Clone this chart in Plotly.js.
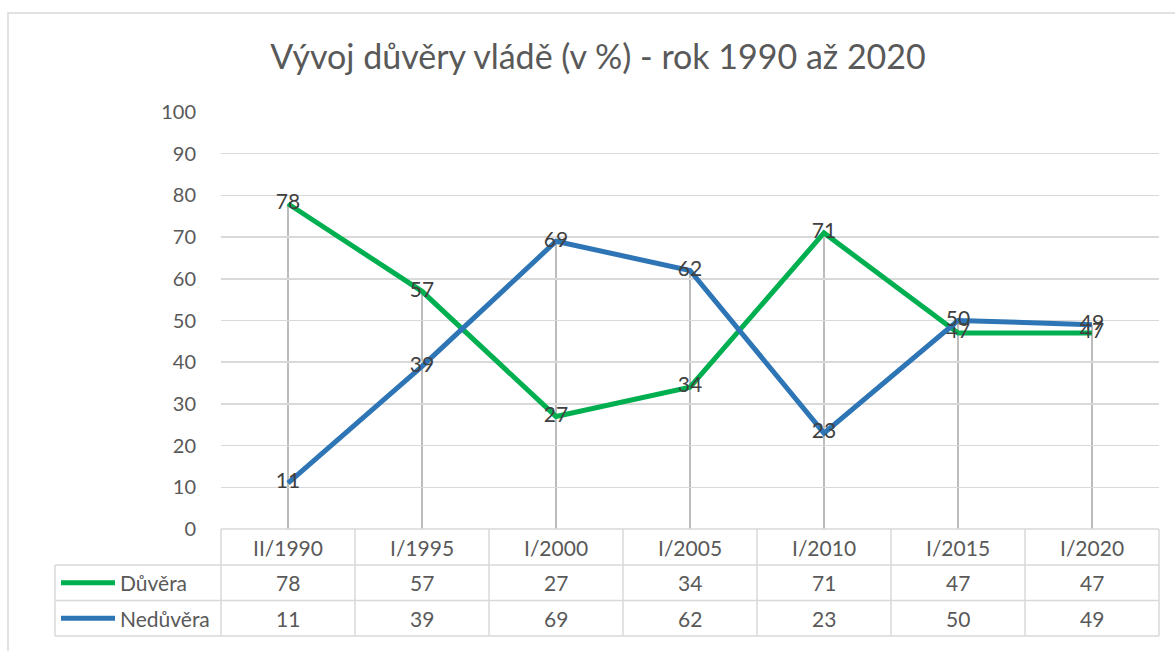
<!DOCTYPE html>
<html><head><meta charset="utf-8">
<script src="https://cdn.plot.ly/plotly-3.0.1.min.js"></script>
<style>html,body{margin:0;padding:0;background:#fff}#chart{width:1175px;height:651px}</style>
</head><body><div id="chart"></div>
<script>
const categories = ['II/1990','I/1995','I/2000','I/2005','I/2010','I/2015','I/2020'];
const duvera = [78, 57, 27, 34, 71, 47, 47];
const neduvera = [11, 39, 69, 62, 23, 50, 49];
const seriesNames = ['Důvěra', 'Nedůvěra'];
const titleText = 'Vývoj důvěry vládě (v %) - rok 1990 až 2020';

const W = 1175, H = 651;
const L = 221, R = 1159, T = 112, B = 529;
const FONT = 'Lato, "Open Sans", sans-serif';
const green = '#00b050', blue = '#2e75b6', grid = '#d9d9d9', txt = '#595959', lbl = '#404040';
const px2x = p => (p - L) / (R - L);
const py2y = p => (B - p) / (B - T);

const xs = categories.map((c, i) => i);
const shapes = [];
const annotations = [];

// drop lines from max value to 0
xs.forEach((x, i) => {
  shapes.push({type:'line', xref:'x', yref:'y', x0:x, x1:x, y0:0, y1:Math.max(duvera[i], neduvera[i]),
    line:{color:'#a6a6a6', width:1.5}, layer:'below'});
});

// outer border
shapes.push({type:'rect', xref:'paper', yref:'paper', x0:px2x(8), x1:px2x(1180), y0:py2y(13), y1:py2y(660),
  line:{color:grid, width:1.5}, fillcolor:'rgba(0,0,0,0)'});

// data table
const rowY = [529, 565, 600.5, 636];
const tl = {color:grid, width:1.5};
shapes.push({type:'line', xref:'paper', yref:'paper', x0:0, x1:1, y0:py2y(rowY[0]), y1:py2y(rowY[0]), line:tl});
for (let r = 1; r < 4; r++) {
  shapes.push({type:'line', xref:'paper', yref:'paper', x0:px2x(55), x1:1, y0:py2y(rowY[r]), y1:py2y(rowY[r]), line:tl});
}
for (let c = 0; c <= categories.length; c++) {
  const xp = c / categories.length;
  shapes.push({type:'line', xref:'paper', yref:'paper', x0:xp, x1:xp, y0:py2y(rowY[0]), y1:py2y(rowY[3]), line:tl});
}
shapes.push({type:'line', xref:'paper', yref:'paper', x0:px2x(55), x1:px2x(55), y0:py2y(rowY[1]), y1:py2y(rowY[3]), line:tl});

const rows = [categories, duvera, neduvera];
rows.forEach((row, r) => {
  const yc = py2y((rowY[r] + rowY[r+1]) / 2);
  row.forEach((v, c) => {
    annotations.push({xref:'paper', yref:'paper', x:(c + 0.5) / categories.length, y:yc,
      text:String(v), showarrow:false, xanchor:'center', yanchor:'middle',
      font:{family:FONT, size:21, color:txt}});
  });
});
[[green, seriesNames[0]], [blue, seriesNames[1]]].forEach((k, i) => {
  const yp = py2y((rowY[i+1] + rowY[i+2]) / 2);
  shapes.push({type:'line', xref:'paper', yref:'paper', x0:px2x(61), x1:px2x(115), y0:yp, y1:yp,
    line:{color:k[0], width:5}});
  annotations.push({xref:'paper', yref:'paper', x:px2x(118), y:yp, text:k[1], showarrow:false,
    xanchor:'left', yanchor:'middle', font:{family:FONT, size:21, color:txt}});
});

const mk = (y, name, color) => ({
  type:'scatter', mode:'lines+text', x:xs, y:y, name:name,
  line:{color:color, width:5}, text:y.map(String), textposition:'middle center',
  textfont:{family:FONT, size:21, color:lbl}, cliponaxis:false, hoverinfo:'skip'
});

const data = [mk(duvera, seriesNames[0], green), mk(neduvera, seriesNames[1], blue)];

const layout = {
  width:W, height:H,
  margin:{l:L, r:W-R, t:T, b:H-B, pad:0},
  paper_bgcolor:'#fff', plot_bgcolor:'#fff',
  showlegend:false,
  font:{family:FONT, color:txt},
  title:{text:titleText, xref:'container', yref:'container', x:598/W, y:1-57/H,
    xanchor:'center', yanchor:'middle', font:{family:FONT, size:34, color:txt}},
  xaxis:{range:[-0.5, categories.length - 0.5], showgrid:false, zeroline:false, showline:false,
    showticklabels:false, ticks:'', fixedrange:true},
  yaxis:{range:[0, 100], dtick:10, tick0:0, showgrid:true, gridcolor:grid, gridwidth:1.5,
    zeroline:false, showline:false, ticks:'outside', ticklen:20, tickcolor:'rgba(0,0,0,0)',
    tickfont:{family:FONT, size:20, color:txt}, fixedrange:true},
  shapes:shapes, annotations:annotations
};

Plotly.newPlot('chart', data, layout, {staticPlot:true, displayModeBar:false});
</script></body></html>
